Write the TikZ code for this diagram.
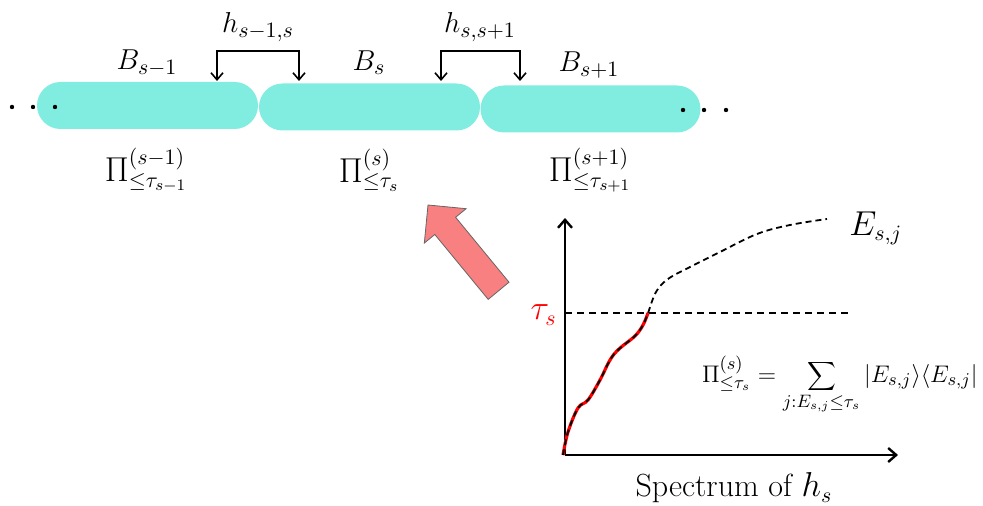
\documentclass[tikz,border=0pt]{standalone}
\usetikzlibrary{arrows.meta}

\definecolor{capsule}{RGB}{128,237,224}
\definecolor{pointer}{RGB}{248,128,128}

\tikzset{
  block/.style={fill=capsule, minimum height=23.5pt, rounded corners=11.75pt, inner sep=0pt},
  dotmark/.style={circle, fill=black, inner sep=0pt, minimum size=2.2pt},
  link/.style={line width=0.8pt, {Straight Barb[length=3.5pt,width=6pt]}-{Straight Barb[length=3.5pt,width=6pt]}},
  axis/.style={line width=1.2pt, -{Straight Barb[length=4pt,width=7pt]}},
  lbl/.style={font=\fontsize{15}{17}\selectfont, inner sep=0pt},
  projlbl/.style={font=\fontsize{16.3}{18}\selectfont, inner sep=0pt},
  level/.style={line width=0.7pt, dash pattern=on 3.5pt off 2.5pt},
  spectrum/.style={line width=0.9pt, dash pattern=on 3pt off 2pt},
}

\begin{document}
\begin{tikzpicture}[x=0.5pt, y=-0.5pt]
  \useasboundingbox (0,0) rectangle (983,506);

  % blocks of the chain
  \node[block, minimum width=110.5pt] (blkprev) at (147.5,105.5) {};
  \node[block, minimum width=110.5pt] (blkcur)  at (369.5,107) {};
  \node[block, minimum width=110pt]   (blknext) at (590.5,109) {};

  % dots at both ends
  \foreach \x [count=\i] in {12,33,55}
    \node[dotmark] (ldot\i) at (\x,107) {};
  \foreach \x [count=\i] in {683,704,726}
    \node[dotmark] (rdot\i) at (\x,110) {};

  % block labels
  \node[lbl] (bprev) at (147,63) {$B_{s-1}$};
  \node[lbl] (bcur)  at (369,63) {$B_{s}$};
  \node[lbl] (bnext) at (589,65) {$B_{s+1}$};

  % projector labels
  \node[projlbl] (pprev) at (146,170) {$\Pi^{(s-1)}_{\leq\tau_{s-1}}$};
  \node[projlbl] (pcur)  at (369,170) {$\Pi^{(s)}_{\leq\tau_{s}}$};
  \node[projlbl] (pnext) at (590,170) {$\Pi^{(s+1)}_{\leq\tau_{s+1}}$};

  % interaction terms
  \coordinate (int1l) at (217,81);
  \coordinate (int1r) at (299,81);
  \coordinate (int2l) at (441,81);
  \coordinate (int2r) at (520,81);
  \draw[link] (int1l) -- ++(0,-30) -| (int1r);
  \draw[link] (int2l) -- ++(0,-30) -| (int2r);
  \node[lbl] (hprev) at (258,27) {$h_{s-1,s}$};
  \node[lbl] (hnext) at (480,27) {$h_{s,s+1}$};

  % pointer from the spectrum to the block
  \filldraw[fill=pointer, draw=black!60, line width=0.4pt]
    (428,205) -- (466.1,208.7) -- (455.6,217.3) -- (509.0,282.2)
    -- (488.2,299.4) -- (434.8,234.5) -- (424.3,243.1) -- cycle;

  % spectrum plot
  \coordinate (origin) at (565,455);
  \coordinate (ytip) at (565,218);
  \coordinate (xtip) at (898,455);
  \coordinate (cut) at (648,313);
  \coordinate (cutend) at (852,313);
  \draw[axis] (origin) -- (ytip);
  \draw[axis] (origin) -- (xtip);
  \draw[level] (origin |- cut) -- (cutend);
  \draw[red, line width=1.6pt] plot[smooth, tension=0.6] coordinates
    {(563,455) (568,432) (578,408) (588,400) (600,380) (610,360)
     (619,349) (635,336) (643,325) (cut)};
  \draw[spectrum] plot[smooth, tension=0.6] coordinates
    {(563,455) (568,432) (578,408) (588,400) (600,380) (610,360)
     (619,349) (635,336) (643,325) (cut) (656,292) (668,279)
     (690,267) (720,252) (757,234) (790,225) (827,219)};

  \node[projlbl, text=red, anchor=east] (tau) at (557,315) {$\tau_s$};
  \node[projlbl, anchor=west] (energy) at (849,228) {$E_{s,j}$};
  \node[font=\fontsize{13}{15}\selectfont, inner sep=0pt, anchor=east] (proj) at (978,385)
    {$\displaystyle \Pi^{(s)}_{\leq\tau_s} = \sum_{j:E_{s,j}\leq\tau_s} |E_{s,j}\rangle\langle E_{s,j}|$};
  \node[font=\fontsize{16}{18}\selectfont, inner sep=0pt] (xlabel) at (734,488) {Spectrum of $h_s$};
\end{tikzpicture}
\end{document}
